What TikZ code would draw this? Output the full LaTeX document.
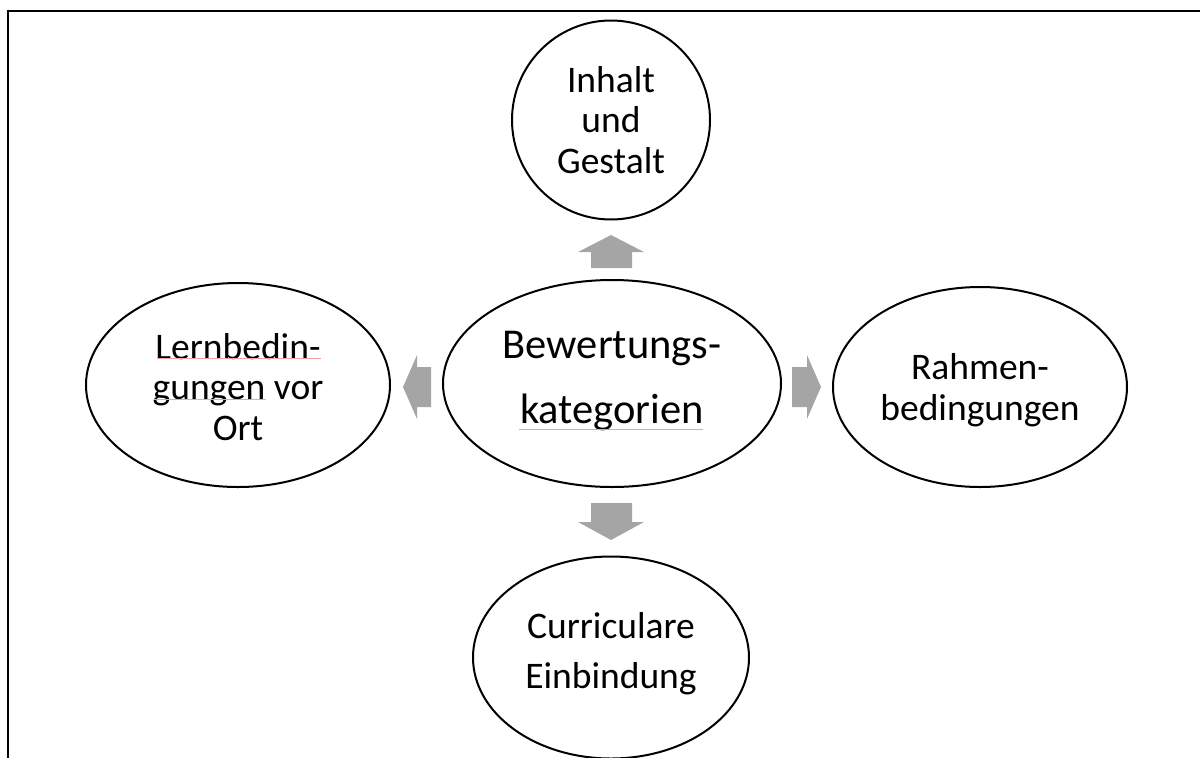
\documentclass[tikz,border=0pt]{standalone}
\usepackage{fontspec}
\setmainfont{Carlito}
\usetikzlibrary{shapes.geometric}
\definecolor{arrowgray}{HTML}{A5A5A5}
\definecolor{spellred}{HTML}{F2A0A0}
\begin{document}
\begin{tikzpicture}[x=1pt,y=-1pt,
  bubble/.style={draw=black, line width=2pt, ellipse, inner sep=0pt},
  txt/.style={align=center, inner sep=0pt, font=\fontsize{37.5}{40.5}\selectfont},
  bigtxt/.style={align=center, inner sep=0pt, font=\fontsize{42.5}{65}\selectfont},
  blockarrow/.style={fill=arrowgray, draw=none},
  spell/.style={draw=spellred, line width=0.8pt}]
\useasboundingbox (0,0) rectangle (1200,758);
% frame: top and left edges only
\draw[line width=1.3pt] (8,758) -- (8,11) -- (1200,11);

% bubbles
\node[bubble, minimum width=338pt, minimum height=207pt] (mid) at (612,383.5) {};
\node[bubble, minimum width=198pt, minimum height=199pt] (top) at (611,120) {};
\node[bubble, minimum width=304pt, minimum height=204pt] (lft) at (238,385) {};
\node[bubble, minimum width=294pt, minimum height=200pt] (rgt) at (980,387) {};
\node[bubble, minimum width=276pt, minimum height=202pt] (bot) at (611,657.5) {};

% texts
\node[bigtxt, yshift=2pt] (midtxt) at (mid.center) {Bewertungs-\\kategorien};
\node[txt] (toptxt) at (top.center) {Inhalt\\und\\Gestalt};
\node[txt, yshift=-2pt] (lfttxt) at (lft.center) {Lernbedin-\\gungen vor\\Ort};
\node[txt, yshift=-3pt] (rgttxt) at (rgt.center) {Rahmen-\\bedingungen};
\node[txt, font=\fontsize{37.5}{49.5}\selectfont, yshift=4pt] (bottxt) at (bot.center) {Curriculare\\Einbindung};

% block arrows
\fill[blockarrow] (591,268) -- (591,252) -- (578,252) -- (611,235) -- (644,252) -- (632,252) -- (632,268) -- cycle;
\fill[blockarrow] (591,503) -- (591,522) -- (578,522) -- (611,540) -- (644,522) -- (632,522) -- (632,503) -- cycle;
\fill[blockarrow] (431,367) -- (417,367) -- (417,355) -- (403,387) -- (417,419) -- (417,407) -- (431,407) -- cycle;
\fill[blockarrow] (792,367) -- (807,367) -- (807,355) -- (821,387) -- (807,419) -- (807,407) -- (792,407) -- cycle;

% spelling marks
\draw[spell] (519,429.5) -- (703,429.5);
\draw[spell] (157,358) -- (321,358);
\draw[spell] (154,399) -- (266,399);
\end{tikzpicture}
\end{document}
